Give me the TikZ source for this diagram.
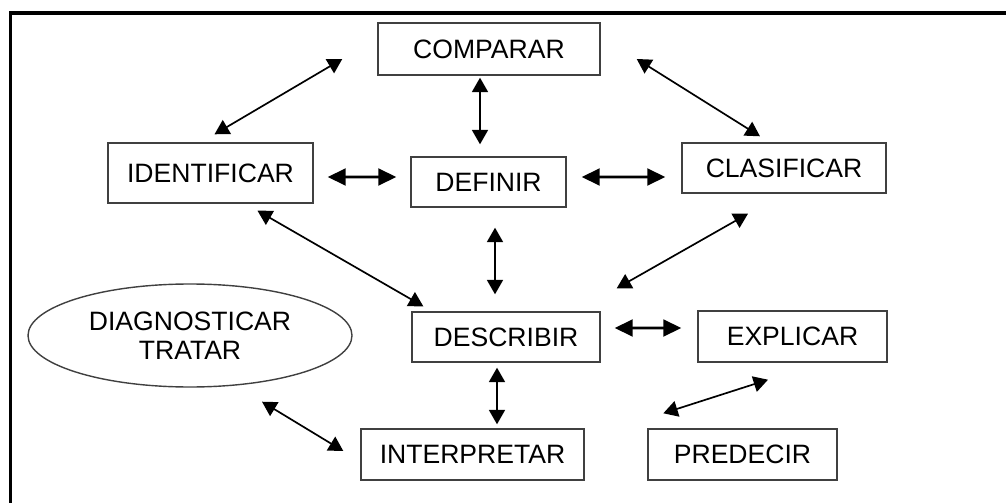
\documentclass[tikz,border=0pt]{standalone}
\usepackage{fontspec}
\setmainfont{Liberation Sans}
\usetikzlibrary{arrows.meta,shapes.geometric}

\tikzset{
  box/.style={draw=black!75, line width=1pt, inner sep=0pt, font=\fontsize{18.9}{20.6}\selectfont},
  oval/.style={box, ellipse, align=center},
  link/.style={<->, >={Triangle[length=0.36cm,width=0.4cm]}, line width=1.2pt},
  flat/.style={link, line width=1.8pt, >={Triangle[length=0.45cm,width=0.42cm]}},
}

\begin{document}
\begin{tikzpicture}
\useasboundingbox (0,0) rectangle (25.15,12.55);
\draw [line width=2.2pt] (0.2625,-0.5) |- (25.6,12.225);

\node [box, minimum width=5.55cm, minimum height=1.3cm] (comp) at (12.225,11.325) {COMPARAR};
\node [box, minimum width=5.125cm, minimum height=1.5cm] (ident) at (5.2625,8.225) {IDENTIFICAR};
\node [box, minimum width=3.875cm, minimum height=1.25cm] (def) at (12.2125,8.0) {DEFINIR};
\node [box, minimum width=5.1cm, minimum height=1.25cm] (clas) at (19.6,8.35) {CLASIFICAR};
\node [oval, minimum width=8.1cm, minimum height=2.575cm] (diag) at (4.75,4.1625) {DIAGNOSTICAR\\TRATAR};
\node [box, minimum width=4.7cm, minimum height=1.25cm] (desc) at (12.65,4.125) {DESCRIBIR};
\node [box, minimum width=4.725cm, minimum height=1.275cm] (expl) at (19.8125,4.1375) {EXPLICAR};
\node [box, minimum width=5.575cm, minimum height=1.275cm] (interp) at (11.8125,1.1875) {INTERPRETAR};
\node [box, minimum width=4.725cm, minimum height=1.275cm] (pred) at (18.5625,1.1875) {PREDECIR};

\draw [link] ([shift={(-0.875,-0.25)}]comp.west) -- ([shift={(0.1,0.2)}]ident.north);
\draw [link] ([shift={(-0.225,-0.05)}]comp.south) -- ([shift={(-0.2125,0.3)}]def.north);
\draw [link] ([shift={(0.9,-0.25)}]comp.east) -- ([shift={(-0.6,0.15)}]clas.north);
\draw [flat] ([shift={(0.35,-0.1)}]ident.east) -- ([shift={(-0.35,0.125)}]def.west);
\draw [flat] ([shift={(0.375,0.125)}]def.east) -- ([shift={(-0.4,-0.225)}]clas.west);
\draw [link] ([shift={(1.175,-0.175)}]ident.south) -- ([shift={(0.3,0.125)}]desc.north west);
\draw [link] ([shift={(0.1625,-0.5)}]def.south) -- ([shift={(-0.275,0.425)}]desc.north);
\draw [link] ([shift={(-0.9,-0.5)}]clas.south) -- ([shift={(0.4,0.575)}]desc.north east);
\draw [flat] ([shift={(0.35,0.225)}]desc.east) -- ([shift={(-0.4,0.2125)}]expl.west);
\draw [link] ([shift={(-0.225,-0.125)}]desc.south) -- ([shift={(0.6125,0.1)}]interp.north);
\draw [link] ([shift={(-0.6125,-0.425)}]expl.south) -- ([shift={(0.4,0.375)}]pred.north west);
\draw [link] ([shift={(1.8,-0.35)}]diag.south) -- ([shift={(-0.425,0.0875)}]interp.west);
\end{tikzpicture}
\end{document}
